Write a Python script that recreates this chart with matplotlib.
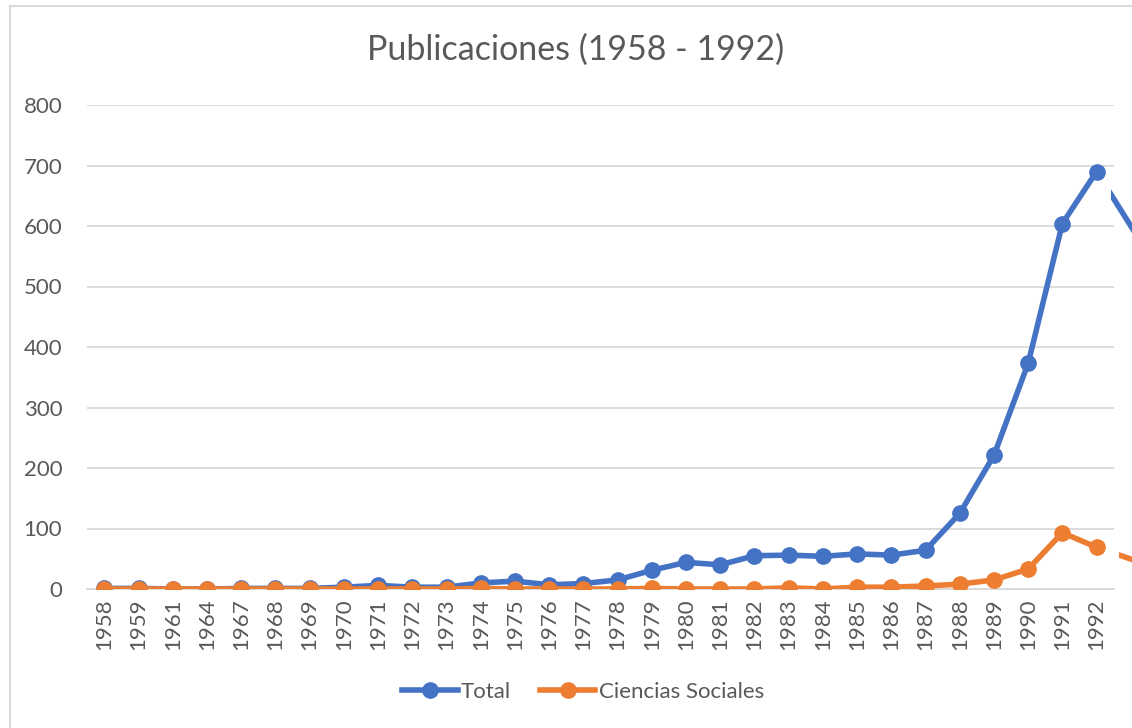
import matplotlib
matplotlib.use("Agg")
import matplotlib.pyplot as plt
from matplotlib.lines import Line2D
from matplotlib.transforms import Bbox, TransformedBbox, IdentityTransform
import numpy as np

years = ["1958", "1959", "1961", "1964", "1967", "1968", "1969", "1970", "1971",
         "1972", "1973", "1974", "1975", "1976", "1977", "1978", "1979", "1980",
         "1981", "1982", "1983", "1984", "1985", "1986", "1987", "1988", "1989",
         "1990", "1991", "1992"]
total = [1, 1, 0, 0, 1, 1, 1, 3, 6, 3, 3, 10, 13, 7, 9, 15, 31, 44, 40, 55,
         56, 54, 58, 56, 64, 125, 221, 373, 604, 690]
ciencias = [0, 0, 0, 0, 0, 0, 0, 0, 0, 0, 0, 1, 0, 0, 0, 0, 1, 0, 0, 0,
            2, 0, 3, 3, 5, 8, 15, 33, 93, 69]
# next (clipped, off-chart) values following 1992
total_next = 510
ciencias_next = 30

BLUE = "#4472C4"
ORANGE = "#ED7D31"
GRAY = "#595959"
FONT = ["Lato", "DejaVu Sans"]

W, H = 1132, 728
fig = plt.figure(figsize=(W / 100, H / 100), dpi=100)
fig.patch.set_facecolor("white")

# plot area in pixels
left_px, right_px = 87.3, 1113.7
top_px, bot_px = 105, 589
ax = fig.add_axes([left_px / W, 1 - bot_px / H, (right_px - left_px) / W, (bot_px - top_px) / H])

n = len(years)
x = np.arange(n)
ax.set_xlim(-0.5, n - 0.5)
ax.set_ylim(0, 800)
ax.set_yticks(range(0, 801, 100))
ax.yaxis.grid(True, color="#D9D9D9", lw=1.3)
ax.set_axisbelow(True)
for s in ax.spines.values():
    s.set_visible(False)
ax.spines["bottom"].set_visible(True)
ax.spines["bottom"].set_color("#D9D9D9")
ax.spines["bottom"].set_linewidth(1.3)

lw = 4.0
ms = 11
ax.plot(x, total, color=BLUE, lw=lw, marker="o", ms=ms, zorder=3,
        solid_capstyle="round", solid_joinstyle="round")
ax.plot(x, ciencias, color=ORANGE, lw=lw, marker="o", ms=ms, zorder=4,
        solid_capstyle="round", solid_joinstyle="round")

# continuation segments beyond the plot area (visible only outside of it)
for vals, nxt, col, x0 in [(total, total_next, BLUE, right_px - 3),
                           (ciencias, ciencias_next, ORANGE, right_px + 5)]:
    ln, = ax.plot([n - 1, n + 1], [vals[-1], nxt], color=col, lw=lw, zorder=2)
    ln.set_clip_path(None)
    ln.set_clip_box(TransformedBbox(Bbox([[x0, 0], [W, H]]), IdentityTransform()))

ax.set_xticks(x)
ax.set_xticklabels(years, rotation=90, fontsize=16, color=GRAY, family=FONT)
ax.tick_params(axis="x", length=0, pad=7)
ax.tick_params(axis="y", length=0, pad=18, labelsize=16, labelcolor=GRAY)
for t in ax.get_yticklabels():
    t.set_family(FONT)

fig.text(576 / W, 1 - 50 / H, "Publicaciones (1958 - 1992)", ha="center", va="center",
         fontsize=24.5, color=GRAY, family=FONT)

handles = [Line2D([0], [0], color=BLUE, lw=lw, marker="o", ms=ms),
           Line2D([0], [0], color=ORANGE, lw=lw, marker="o", ms=ms)]
fig.legend(handles, ["Total", "Ciencias Sociales"], loc="center",
           bbox_to_anchor=(583 / W, 1 - 692 / H), ncol=2, frameon=False,
           prop={"family": FONT, "size": 16}, labelcolor=GRAY,
           handlelength=2.5, handletextpad=0.15, columnspacing=1.3)

# chart border (left and top visible)
fig.add_artist(Line2D([10 / W, 10 / W], [0, 1 - 6 / H], color="#D9D9D9", lw=1.5))
fig.add_artist(Line2D([10 / W, 1], [1 - 6 / H, 1 - 6 / H], color="#D9D9D9", lw=1.5))

fig.savefig("out.png", dpi=100)
